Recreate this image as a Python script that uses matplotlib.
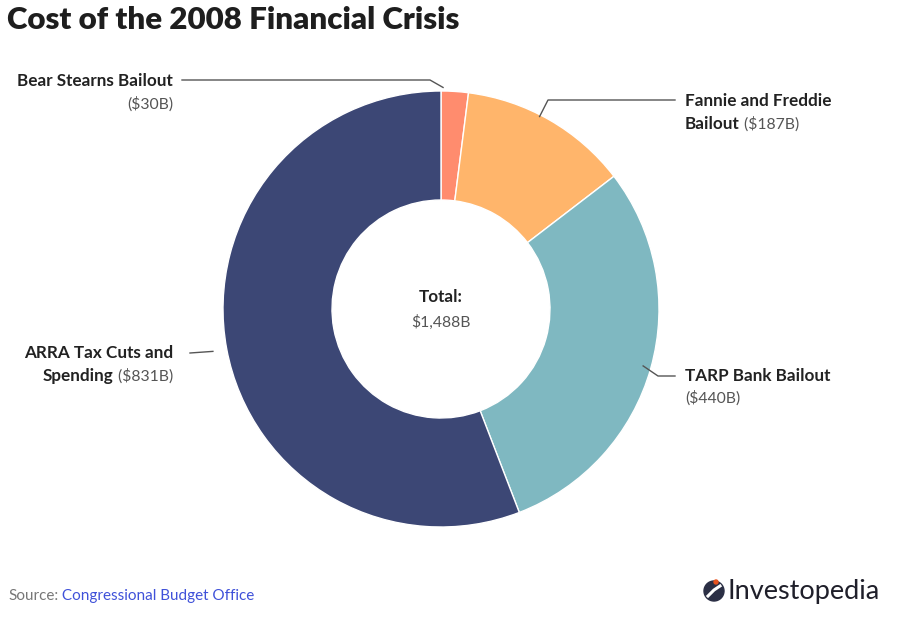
import numpy as np
import matplotlib
matplotlib.use("Agg")
import matplotlib.pyplot as plt
from matplotlib.patches import Circle

# 数据
labels = ["Bear Stearns Bailout", "Fannie and Freddie Bailout", "TARP Bank Bailout", "ARRA Tax Cuts and Spending"]
values = [30, 187, 440, 831]
colors = ["#FF8C6E", "#FFB56B", "#7FB8C1", "#3C4775"]
total = sum(values)

plt.rcParams["font.family"] = ["Lato", "DejaVu Sans"]

W, H = 913, 621
fig = plt.figure(figsize=(W / 100, H / 100), dpi=100)
ax = fig.add_axes([0, 0, 1, 1])

cx, cy, R = 441, 309, 218
wedges, _ = ax.pie(values, colors=colors, center=(cx, cy), radius=R,
                   startangle=-90, counterclock=True,
                   wedgeprops=dict(width=109, edgecolor="white", linewidth=1))
ax.set_xlim(0, W)
ax.set_ylim(H, 0)
ax.set_aspect("equal")
ax.axis("off")

# 标题
ax.text(7, 20, "Cost of the 2008 Financial Crisis", fontsize=22.5, fontweight="heavy",
        color="#1e1e1e", va="center", ha="left")

# 引线与标签
lc = "#555555"
bold = dict(fontsize=12.3, fontweight="bold", color="#222222")
reg = dict(fontsize=11.3, color="#555555")


def anchor(i, r):
    w = wedges[i]
    th = np.deg2rad((w.theta1 + w.theta2) / 2)
    return cx + r * np.cos(th), cy + r * np.sin(th)


# Bear Stearns
ax0, ay0 = anchor(0, 222)
ax.plot([182, 430, ax0 - 12], [80, 80, ay0], color=lc, lw=1)
ax.text(173, 81, "Bear Stearns Bailout", ha="right", va="center", **bold)
ax.text(173, 104, "($30B)", ha="right", va="center", **reg)

# Fannie and Freddie
ax1, ay1 = anchor(1, 222)
ax.plot([675, 548, ax1 - 12], [100, 100, ay1], color=lc, lw=1)
ax.text(685, 101, "Fannie and Freddie", ha="left", va="center", **bold)
t = ax.text(685, 124, "Bailout", ha="left", va="center", **bold)
ax.annotate(" ($187B)", xycoords=t, xy=(1, 0.5), va="center", ha="left", **reg)

# TARP
ax2, ay2 = anchor(2, 210)
ax.plot([675, 658, ax2], [376, 376, ay2], color=lc, lw=1)
ax.text(685, 376, "TARP Bank Bailout", ha="left", va="center", **bold)
ax.text(685, 398, "($440B)", ha="left", va="center", **reg)

# ARRA
ax3, ay3 = anchor(3, 232)
ax.plot([190, ax3], [353, ay3], color=lc, lw=1)
ax.text(173, 353, "ARRA Tax Cuts and", ha="right", va="center", **bold)
t = ax.text(173, 376, " ($831B)", ha="right", va="center", **reg)
ax.annotate("Spending", xycoords=t, xy=(0, 0.5), va="center", ha="right", **bold)

# 中心总计
ax.text(cx, 297, "Total:", ha="center", va="center", **bold)
ax.text(cx, 322, f"${total:,}B", ha="center", va="center", **reg)

# 来源
t = ax.text(8, 596, "Source:", ha="left", va="center", fontsize=11, color="#777777")
ax.annotate(" Congressional Budget Office", xycoords=t, xy=(1, 0.5), va="center",
            ha="left", fontsize=11, color="#3F51D9")

# Investopedia 标志
ax.add_patch(Circle((714, 591), 10, color="#2B2F45"))
ax.plot([708, 714, 720], [596, 590, 586], color="white", lw=2.2)
ax.add_patch(Circle((716, 582), 2, color="#E8531E"))
ax.text(727, 591, "Investopedia", ha="left", va="center", fontsize=19.5,
        color="#1f1f2a")

fig.savefig("out.png", dpi=100)
